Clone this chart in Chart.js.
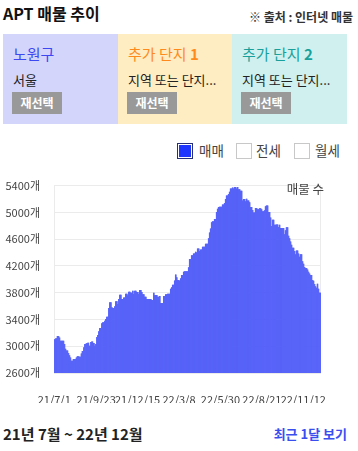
<!DOCTYPE html>
<html><head><meta charset="utf-8">
<script src="https://cdn.jsdelivr.net/npm/chart.js@4"></script>
<style>
body{margin:0;width:358px;height:451px;background:#fff;font-family:"Noto Sans CJK KR","Noto Sans",sans-serif;position:relative;overflow:hidden;color:#222}
.abs{position:absolute;white-space:nowrap}
.panel{position:absolute;top:34px;height:90px}
.ptitle{position:absolute;left:10px;top:10px;line-height:20px;font-size:15px}
.psub{position:absolute;left:10px;top:36px;line-height:20px;font-size:13px;color:#222}
.btn{position:absolute;left:9px;top:58px;width:50px;height:22px;line-height:22px;background:#999;color:#fff;font-weight:bold;font-size:12px;text-align:center}
.box{position:absolute;top:143px;width:14px;height:14px;border:1px solid #c8c8c8;background:#fff}
.lt{position:absolute;top:141px;line-height:18px;font-size:13.5px;color:#444}
</style></head><body>
<div class="abs" style="left:3px;top:3px;font-size:16px;font-weight:bold;line-height:20px;color:#111">APT 매물 추이</div>
<div class="abs" style="right:5px;top:8px;font-size:12px;font-weight:bold;line-height:18px;color:#333">※ 출처 : 인터넷 매물</div>

<div class="panel" style="left:3px;width:115px;background:#d4d5fa">
  <div class="ptitle" style="color:#3d48f3">노원구</div>
  <div class="psub">서울</div>
  <div class="btn">재선택</div>
</div>
<div class="panel" style="left:118px;width:114px;background:#feedc3">
  <div class="ptitle" style="color:#ff8a1c">추가 단지 <b>1</b></div>
  <div class="psub">지역 또는 단지...</div>
  <div class="btn">재선택</div>
</div>
<div class="panel" style="left:232px;width:115px;background:#cff0ee">
  <div class="ptitle" style="color:#17a09c">추가 단지 <b>2</b></div>
  <div class="psub">지역 또는 단지...</div>
  <div class="btn">재선택</div>
</div>

<div class="box" style="left:177px;background:#1f36ff;border-color:#26307a;box-shadow:inset 0 0 0 1px #fff"></div>
<div class="lt" style="left:199px">매매</div>
<div class="box" style="left:236px"></div>
<div class="lt" style="left:256px">전세</div>
<div class="box" style="left:294px"></div>
<div class="lt" style="left:315px">월세</div>

<div id="chartBox" style="position:absolute;left:0;top:165px;width:358px;height:238px"><canvas id="c"></canvas></div>
<div class="abs" style="right:34px;top:181px;font-size:12.5px;line-height:16px;color:#444">매물 수</div>

<div class="abs" style="left:3px;top:424px;font-size:15px;font-weight:bold;line-height:20px;color:#222">21년 7월 ~ 22년 12월</div>
<div class="abs" style="right:11px;top:424px;font-size:13px;font-weight:bold;line-height:20px;color:#3a4ef0">최근 1달 보기</div>

<script>
// Listing counts (매매), each value held for the given number of days, starting 2021-07-01
const salesValues = [3100,3115,3148,3124,3076,3029,2957,2933,2894,2861,2828,2779,2803,2828,2846,2837,2885,2922,2980,3029,3038,3048,3004,3058,3067,3043,3004,3030,3134,3162,3220,3268,3339,3354,3374,3402,3436,3565,3651,3579,3565,3594,3666,3627,3699,3766,3699,3723,3781,3757,3810,3795,3824,3776,3824,3805,3776,3834,3805,3771,3733,3699,3685,3795,3757,3762,3733,3747,3641,3747,3771,3781,3853,3877,3914,3977,4068,4025,3986,3972,4011,4058,4107,4116,4175,4298,4355,4380,4408,4394,4456,4417,4442,4480,4528,4610,4696,4753,4849,4863,4897,5002,5050,5074,5078,5113,5136,5193,5246,5270,5304,5351,5366,5351,5376,5351,5376,5342,5318,5174,5193,5160,5198,5174,5146,5074,5031,4992,5059,5040,5055,5040,5012,5026,5088,5098,5002,4920,4791,4883,4811,4815,4776,4811,4762,4667,4729,4772,4647,4609,4561,4513,4466,4417,4370,4427,4380,4331,4370,4265,4226,4178,4164,4140,4107,4082,4058,3986,3972,3924,3891,3867,3929,3853,3795];
const salesDays = [3,3,4,2,8,2,2,4,2,2,2,4,6,2,4,4,2,3,2,3,3,3,3,2,3,3,2,2,2,2,2,4,2,4,2,2,4,2,4,2,4,2,4,2,2,4,4,4,4,2,4,4,2,2,4,4,2,4,2,4,4,10,4,2,2,4,4,2,6,4,4,6,2,2,4,2,2,2,4,2,2,4,2,8,2,4,4,4,2,2,4,2,4,6,6,2,2,2,2,4,4,2,2,2,6,4,2,2,4,2,2,4,2,2,4,2,2,4,4,2,4,2,2,4,2,4,2,4,4,4,4,2,4,2,2,4,4,2,2,4,4,4,2,2,8,2,2,4,2,2,2,2,4,2,2,4,2,2,4,2,2,2,4,2,2,2,4,2,2,2,2,2,2,2,4];
const xTickLabels = ['21/7/1','21/9/23','21/12/15','22/3/8','22/5/30','22/8/21','22/11/12'];
const yMin = 2600, yMax = 5400, yStep = 400;

const labels = [], data = [];
let k = 0;
salesValues.forEach((v, i) => {
  for (let j = 0; j < salesDays[i]; j++) {
    const d = new Date(2021, 6, 1 + k);
    labels.push((d.getFullYear() % 100) + '/' + (d.getMonth() + 1) + '/' + d.getDate());
    data.push(v);
    k++;
  }
});

const FONT = '"Noto Sans CJK KR","Noto Sans",sans-serif';
const rightBorder = {
  id: 'rightBorder',
  beforeDatasetsDraw(c) {
    const {ctx, chartArea: a} = c;
    ctx.save();
    ctx.strokeStyle = '#ebebeb'; ctx.lineWidth = 1;
    ctx.beginPath(); ctx.moveTo(Math.round(a.right) - 0.5, a.top); ctx.lineTo(Math.round(a.right) - 0.5, a.bottom); ctx.stroke();
    ctx.restore();
  }
};

new Chart(document.getElementById('c'), {
  type: 'bar',
  data: { labels, datasets: [{ label: '매물 수', data, backgroundColor: '#5763f8', borderWidth: 0, barPercentage: 1, categoryPercentage: 1 }] },
  options: {
    responsive: true, maintainAspectRatio: false, animation: false,
    layout: { padding: { left: 0, right: 37, top: 13, bottom: 0 } },
    plugins: { legend: { display: false }, tooltip: { enabled: false } },
    scales: {
      x: {
        offset: true,
        grid: { display: false }, border: { display: false },
        ticks: { autoSkip: false, maxRotation: 0, minRotation: 0, padding: 12, color: '#444', font: { family: FONT, size: 11 } },
        afterBuildTicks(s) { s.ticks = s.ticks.filter(t => xTickLabels.includes(labels[t.value])); },
        afterFit(s) { s.height = 30; }
      },
      y: {
        min: yMin, max: yMax,
        ticks: { stepSize: yStep, padding: 14, color: '#444', font: { family: FONT, size: 11 }, callback: v => v + '개' },
        grid: { color: '#ebebeb', drawTicks: false },
        border: { display: true, color: '#ebebeb' },
        afterFit(s) { s.width = 54; }
      }
    }
  },
  plugins: [rightBorder]
});
</script>
</body></html>
